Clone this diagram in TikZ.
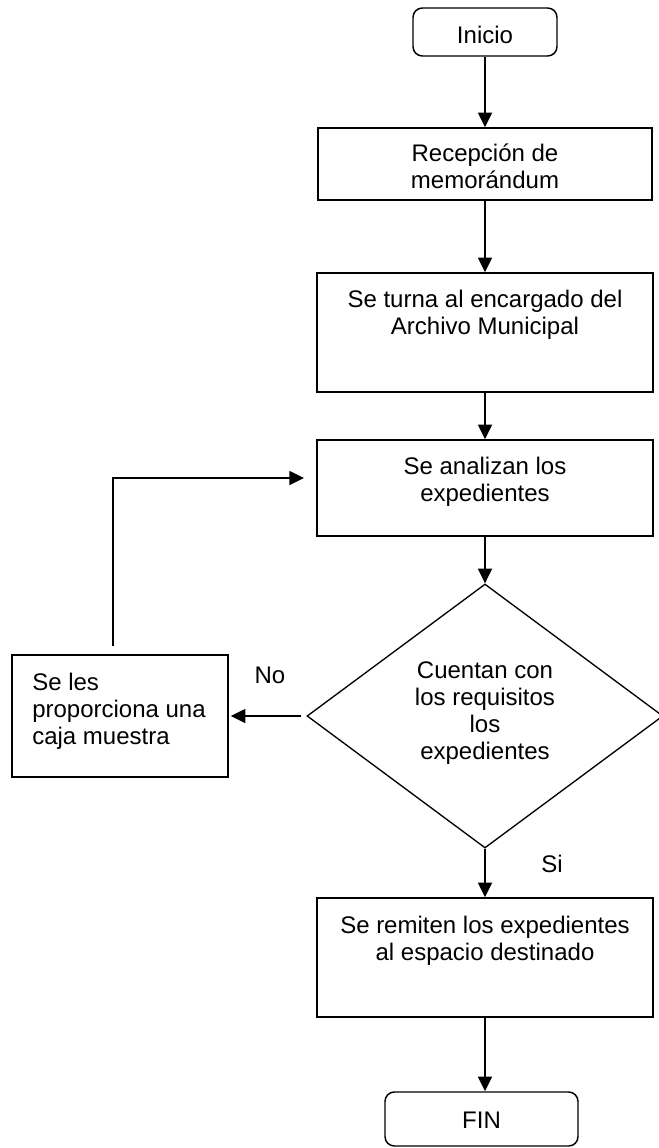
\documentclass[tikz,border=0pt]{standalone}
\usepackage{fontspec}
\setmainfont{Liberation Sans}
\usetikzlibrary{arrows.meta,shapes.geometric,calc}
\newlength\pxu
\setlength\pxu{0.75pt}
\newcommand\fstrut{\rule{0pt}{16pt}}
\begin{document}
\begin{tikzpicture}[x=0.75pt,y=-0.75pt,
  procbox/.style={draw,line width=1.1pt,inner sep=0pt,rectangle},
  termbox/.style={procbox,rounded corners=7pt},
  decbox/.style={draw,line width=1pt,diamond,inner sep=0pt},
  lbl/.style={inner sep=0pt,font=\fontsize{18}{20.25}\selectfont,align=center,anchor=north},
  tag/.style={inner sep=0pt,font=\fontsize{18}{20.25}\selectfont,anchor=base},
  arr/.style={line width=1.1pt,-{Triangle[length=11pt,width=10.5pt]}}]
\useasboundingbox (0,0) rectangle (659,1148);

% shapes
\node[termbox,minimum width=144\pxu,minimum height=48\pxu] (ini) at (485,32) {};
\node[procbox,minimum width=334\pxu,minimum height=72\pxu] (b1) at (485,164) {};
\node[procbox,minimum width=336\pxu,minimum height=119\pxu] (b2) at (485,332.5) {};
\node[procbox,minimum width=336\pxu,minimum height=96\pxu] (b3) at (485,488) {};
\node[decbox,minimum width=356\pxu,minimum height=264\pxu] (d) at (485,716) {};
\node[procbox,minimum width=216\pxu,minimum height=122\pxu] (lb) at (120,716) {};
\node[procbox,minimum width=336\pxu,minimum height=119\pxu] (b5) at (485,957.5) {};
\node[termbox,minimum width=193\pxu,minimum height=54\pxu] (fin) at (481.5,1119) {};

% texts
\node[lbl] (tini) at (485,21.67) {\fstrut Inicio};
\node[lbl] (tb1) at (485,139.67) {\fstrut Recepción de\\memorándum};
\node[lbl] (tb2) at (485,285.67) {\fstrut Se turna al encargado del\\Archivo Municipal};
\node[lbl] (tb3) at (485,452.67) {\fstrut Se analizan los\\expedientes};
\node[lbl] (td) at (485,656.67) {\fstrut Cuentan con\\los requisitos\\los\\expedientes};
\node[lbl,align=left,anchor=north west] (tlb) at (32,668.67) {\fstrut Se les\\proporciona una\\caja muestra};
\node[lbl] (tb5) at (485,911.67) {\fstrut Se remiten los expedientes\\al espacio destinado};
\node[lbl] (tfin) at (481.5,1106.67) {\fstrut FIN};
\node[tag] (no) at (270,683) {No};
\node[tag] (si) at (552,872) {Si};

% connectors
\draw[arr] (ini.south) -- (b1.north);
\draw[arr] (b1.south) -- (b2.north);
\draw[arr] (b2.south) -- (b3.north);
\draw[arr] (b3.south) -- (d.north);
\draw[arr] (d.south) -- (b5.north);
\draw[arr] (b5.south) -- (b5.south |- fin.north);
\draw[arr,shorten <=3.75pt,shorten >=1.5pt] (d.west) -- (lb.east);
\coordinate (lt) at (113,646);
\coordinate (la) at (304,478);
\draw[arr] (lt) |- (la);
\end{tikzpicture}
\end{document}
